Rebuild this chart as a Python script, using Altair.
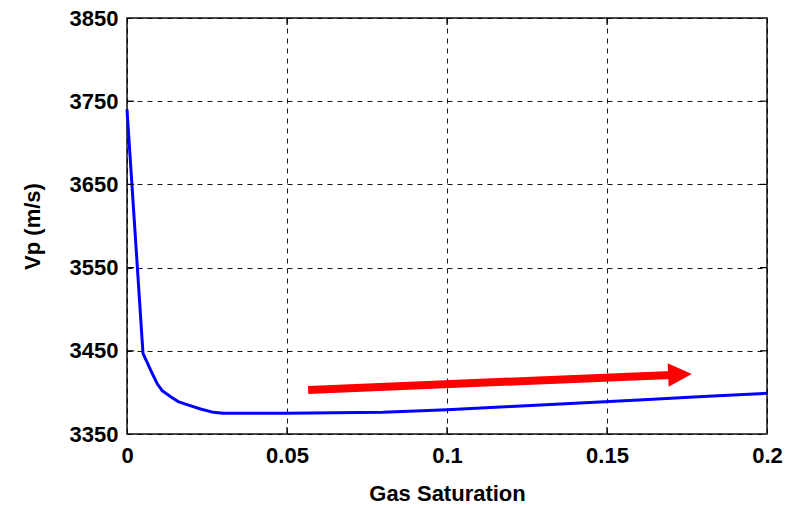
import altair as alt
import pandas as pd

# Curve: Vp vs gas saturation
sat = [0, 0.005, 0.0075, 0.0095, 0.011, 0.014, 0.016, 0.019, 0.023, 0.027,
       0.03, 0.05, 0.08, 0.1, 0.12, 0.14, 0.16, 0.18, 0.2]
vp = [3740, 3447, 3426, 3410, 3402, 3394, 3389, 3385, 3380, 3376,
      3375, 3375, 3376, 3379, 3383, 3387, 3391, 3395, 3399]

# Red arrow (shaft endpoints and head centre, in data units)
arrow_x = [0.0566, 0.170]
arrow_y = [3403, 3421]
head_x = [0.1728]
head_y = [3421.5]

x_ticks = [0, 0.05, 0.1, 0.15, 0.2]
y_ticks = [3350, 3450, 3550, 3650, 3750, 3850]
x_inner = [0.05, 0.1, 0.15]
y_inner = [3450, 3550, 3650, 3750]

W, H = 640, 416
FONT = "Liberation Sans"

curve = pd.DataFrame({"x": sat, "y": vp})
shaft = pd.DataFrame({"x": arrow_x, "y": arrow_y})
head = pd.DataFrame({"x": head_x, "y": head_y})
xt = pd.DataFrame({"x": x_inner})
yt = pd.DataFrame({"y": y_inner})

xscale = alt.Scale(domain=[0, 0.2], nice=False, zero=False)
yscale = alt.Scale(domain=[3350, 3850], nice=False, zero=False)

xaxis = alt.Axis(values=x_ticks, format="~g", title="Gas Saturation",
                 titleY=59, titleBaseline="middle", labelPadding=11)
yaxis = alt.Axis(values=y_ticks, format="d", title="Vp (m/s)",
                 titleX=-95, titleY=H / 2, titleBaseline="middle",
                 labelPadding=9)

line = alt.Chart(curve).mark_line(color="#0000FF", strokeWidth=3).encode(
    x=alt.X("x:Q", scale=xscale, axis=xaxis),
    y=alt.Y("y:Q", scale=yscale, axis=yaxis),
)

shaft_mark = alt.Chart(shaft).mark_line(color="#FF0000", strokeWidth=8,
                                        strokeCap="butt").encode(
    x=alt.X("x:Q", scale=xscale),
    y=alt.Y("y:Q", scale=yscale),
)

head_mark = alt.Chart(head).mark_point(
    shape="M-1,-1L1,0L-1,1Z", filled=True, color="#FF0000", opacity=1,
    size=560, angle=357.6, strokeWidth=0,
).encode(
    x=alt.X("x:Q", scale=xscale),
    y=alt.Y("y:Q", scale=yscale),
)

tick_color = "#000000"
xt_top = alt.Chart(xt).mark_rule(color=tick_color, strokeWidth=1.2).encode(
    x=alt.X("x:Q", scale=xscale), y=alt.value(0), y2=alt.value(7))
xt_bot = alt.Chart(xt).mark_rule(color=tick_color, strokeWidth=1.2).encode(
    x=alt.X("x:Q", scale=xscale), y=alt.value(H - 7), y2=alt.value(H))
yt_left = alt.Chart(yt).mark_rule(color=tick_color, strokeWidth=1.2).encode(
    y=alt.Y("y:Q", scale=yscale), x=alt.value(0), x2=alt.value(7))
yt_right = alt.Chart(yt).mark_rule(color=tick_color, strokeWidth=1.2).encode(
    y=alt.Y("y:Q", scale=yscale), x=alt.value(W - 7), x2=alt.value(W))

chart = alt.layer(
    line, xt_top, xt_bot, yt_left, yt_right, shaft_mark, head_mark
).properties(
    width=W, height=H,
    autosize=alt.AutoSizeParams(type="none"),
    padding={"left": 127, "top": 18, "right": 27, "bottom": 74},
    background="white",
).configure_view(
    stroke="#111111", strokeWidth=1.5,
).configure_axis(
    domain=False, ticks=False, tickSize=0,
    grid=True, gridColor="#000000", gridDash=[5, 5], gridWidth=1, gridOpacity=0.9,
    labelFont=FONT, labelFontSize=22, labelFontWeight="bold", labelColor="#000000",
    titleFont=FONT, titleFontSize=22, titleFontWeight="bold", titleColor="#000000",
    labelFlush=False, labelOverlap=False,
)

chart.save("out.html", embed_options={"renderer": "svg", "actions": False})
